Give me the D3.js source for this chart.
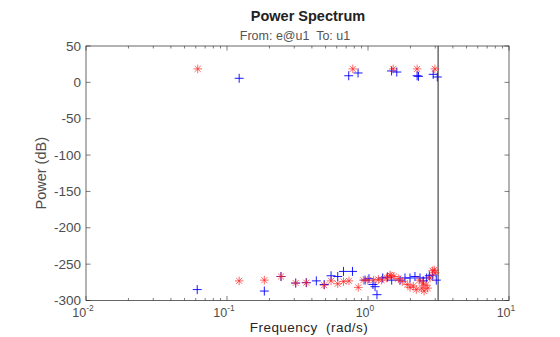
<!DOCTYPE html>
<html><head><meta charset="utf-8">
<script src="https://cdn.jsdelivr.net/npm/d3@7"></script>
<style>body{margin:0;background:#fff}svg{display:block}text{font-family:"Liberation Sans",Arial,Helvetica,sans-serif;white-space:pre}</style>
</head><body><div id="chart"></div>
<script>
const redFreq = [0.062,0.78,1.51,2.23,2.98,
 0.122,0.184,0.2415,0.307,0.365,0.489,0.547,0.610,0.670,0.733,0.853,0.927,0.995,1.096,1.184,1.250,1.357,1.432,1.455,1.528,1.640,1.75,1.9,1.986,2.095,2.2,2.312,2.404,2.443,2.5,2.578,2.65,2.754,2.875,2.953,3.0];
const redPow = [18.5,18.5,18.5,18.5,18.5,
 -273,-272,-267,-276,-275.5,-279,-273,-277,-274,-273,-282,-272,-272,-272,-271,-272,-269,-265,-266,-267,-270,-274,-278,-282,-280,-285,-272,-283,-276,-287,-279,-283,-269,-259,-258,-262];
const blueFreq = [0.122,0.73,0.85,1.47,1.60,2.23,2.28,2.9,3.1,
 0.0615,0.184,0.2415,0.307,0.365,0.430,0.489,0.547,0.610,0.670,0.776,0.953,1.016,1.084,1.122,1.158,1.271,1.371,1.472,1.687,1.829,1.986,2.153,2.339,2.466,2.606,2.722,2.875,3.05];
const bluePow = [5.6,9.1,12.9,15.7,14.2,9.1,8.3,11,7.4,
 -285,-287,-267,-276,-275.5,-273,-278,-266,-267,-260,-260,-272,-270,-278,-281,-292,-269,-268,-272,-272,-269,-269,-267,-269,-273,-269,-266,-265,-272];
const yTicks = [-300,-250,-200,-150,-100,-50,0,50];
const xTickExps = [-2,-1,0,1];
const nyquist = Math.PI;

const W=560,H=337, L=86,R=509,T=46,B=300.5;
const svg=d3.select("#chart").append("svg").attr("width",W).attr("height",H);
const x=d3.scaleLog().domain([0.01,10]).range([L,R]);
const y=d3.scaleLinear().domain([-300,50]).range([B,T]);
const axisCol="#262626", labCol="#4d4d4d";

svg.append("rect").attr("x",L).attr("y",T).attr("width",R-L).attr("height",B-T).attr("fill","#fff");

// ticks
const g=svg.append("g").attr("stroke",axisCol).attr("stroke-width",0.6);
const minor=[];
for(let e=-2;e<1;e++) for(let k=2;k<=9;k++) minor.push(k*Math.pow(10,e));
minor.forEach(v=>{
  g.append("line").attr("x1",x(v)).attr("x2",x(v)).attr("y1",B).attr("y2",B-2.5);
  g.append("line").attr("x1",x(v)).attr("x2",x(v)).attr("y1",T).attr("y2",T+2.5);
});
xTickExps.forEach(e=>{const v=Math.pow(10,e);
  g.append("line").attr("x1",x(v)).attr("x2",x(v)).attr("y1",B).attr("y2",B-4.5);
  g.append("line").attr("x1",x(v)).attr("x2",x(v)).attr("y1",T).attr("y2",T+4.5);
});
yTicks.forEach(v=>{
  g.append("line").attr("x1",L).attr("x2",L+4.5).attr("y1",y(v)).attr("y2",y(v));
  g.append("line").attr("x1",R).attr("x2",R-4.5).attr("y1",y(v)).attr("y2",y(v));
});

// nyquist line
svg.append("line").attr("x1",x(nyquist)).attr("x2",x(nyquist)).attr("y1",T).attr("y2",B)
  .attr("stroke","#222").attr("stroke-width",1);

// markers
const mk=svg.append("g");
const star=(cx,cy,s)=>{const a=s*0.7;return `M${cx-s},${cy}L${cx+s},${cy}M${cx},${cy-s}L${cx},${cy+s}M${cx-a},${cy-a}L${cx+a},${cy+a}M${cx-a},${cy+a}L${cx+a},${cy-a}`;};
const plus=(cx,cy,s)=>`M${cx-s},${cy}L${cx+s},${cy}M${cx},${cy-s}L${cx},${cy+s}`;
mk.selectAll("path.b").data(blueFreq.map((f,i)=>[f,bluePow[i]])).enter().append("path")
  .attr("d",d=>plus(x(d[0]),y(d[1]),4.5)).attr("stroke","#0000ff").attr("stroke-width",0.9).attr("fill","none");
mk.selectAll("path.r").data(redFreq.map((f,i)=>[f,redPow[i]])).enter().append("path")
  .attr("d",d=>star(x(d[0]),y(d[1]),4.3)).attr("stroke","#ff2020").attr("stroke-width",0.9).attr("fill","none").attr("opacity",0.75);

// box
svg.append("rect").attr("x",L).attr("y",T).attr("width",R-L).attr("height",B-T)
  .attr("fill","none").attr("stroke",axisCol).attr("stroke-width",0.7);

// labels
yTicks.forEach(v=>svg.append("text").attr("x",L-5).attr("y",y(v)+4.5).attr("text-anchor","end")
  .attr("font-size",13.5).attr("fill",labCol).text(v));
xTickExps.forEach(e=>{const t=svg.append("text").attr("x",x(Math.pow(10,e))-3).attr("y",317)
  .attr("text-anchor","middle").attr("font-size",12.5).attr("fill",labCol);
  t.append("tspan").text("10");
  t.append("tspan").attr("dy",-6).attr("font-size",8.5).text(e);});
svg.append("text").attr("x",309).attr("y",332).attr("text-anchor","middle").attr("font-size",13.5)
  .attr("letter-spacing",0.45).attr("fill","#262626").text("Frequency  (rad/s)");
svg.append("text").attr("transform",`translate(46,${(T+B)/2}) rotate(-90)`).attr("text-anchor","middle").attr("font-size",14.5).attr("fill","#4d4d4d").text("Power (dB)");
svg.append("text").attr("x",308).attr("y",21).attr("text-anchor","middle").attr("font-size",14.5).attr("font-weight","bold").attr("fill","#222").text("Power Spectrum");
svg.append("text").attr("x",295).attr("y",40).attr("text-anchor","middle").attr("font-size",12.5).attr("fill","#555").text("From: e@u1  To: u1");
</script></body></html>
